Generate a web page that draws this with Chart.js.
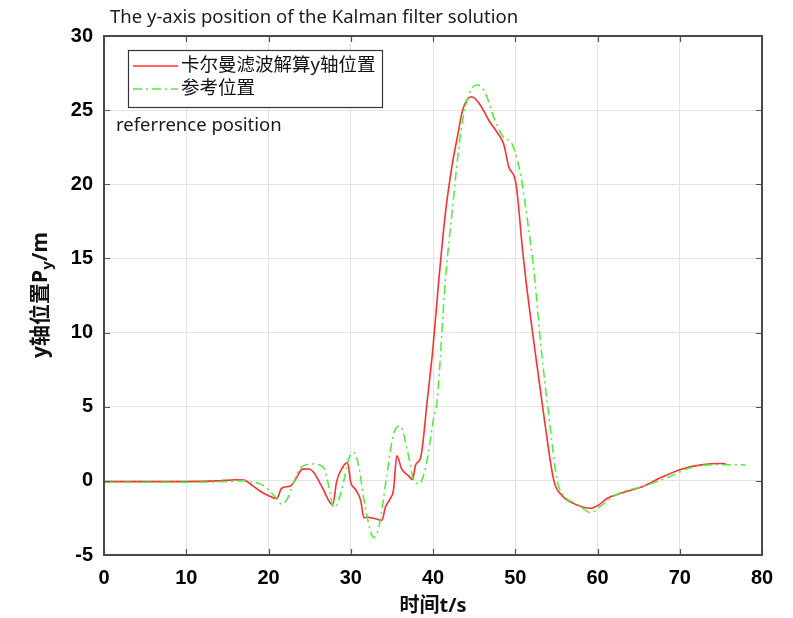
<!DOCTYPE html>
<html>
<head>
<meta charset="utf-8">
<script src="https://cdn.jsdelivr.net/npm/chart.js@4.4.1/dist/chart.umd.min.js"></script>
<style>
  html, body { margin: 0; padding: 0; background: #fff; }
  #wrap { width: 793px; height: 618px; }
</style>
</head>
<body>
<div id="wrap"><canvas id="myChart" width="793" height="618"></canvas></div>
<script>
// Kalman filter estimate of y position
const kalmanTime = [0, 5, 10, 14, 16, 17, 18, 19, 20, 21, 21.6, 22.7, 23.5, 24.1, 24.9, 25.5, 26.5, 27.8, 28.3, 29.0,
  29.6, 30.0, 30.6, 31.2, 31.6, 32.0, 33.0, 33.8, 34.2, 34.8, 35.2, 35.6, 36.2, 37.0, 37.5, 37.9, 38.5, 39.3, 40.0, 40.7,
  41.5, 42.3, 43.0, 43.6, 44.7, 45.8, 46.8, 47.8, 48.6, 49.2, 50.1, 50.9, 51.3, 52.3, 53.5, 54.7, 55.7, 57.0, 58.4, 59.2,
  60.2, 61.2, 62.5, 63.7, 65.7, 67.7, 70.2, 72.6, 75.2, 75.6];
const kalmanY = [-0.05, -0.05, -0.05, 0.0, 0.07, 0.05, -0.3, -0.7, -1.0, -1.2, -0.5, -0.34, 0.3, 0.79, 0.8, 0.56, -0.4, -1.62, 0.0, 0.9,
  1.24, -0.1, -0.6, -1.3, -2.48, -2.45, -2.55, -2.66, -1.8, -1.2, -0.6, 1.69, 0.79, 0.35, 0.1, 1.1, 1.57, 5.4, 9.0, 13.5,
  18.0, 21.2, 23.3, 25.0, 25.9, 25.3, 24.3, 23.5, 22.7, 21.2, 20.0, 15.5, 13.5, 9.2, 4.3, 0.0, -1.0, -1.5, -1.8, -1.85,
  -1.6, -1.17, -0.9, -0.68, -0.34, 0.22, 0.79, 1.08, 1.17, 1.15];

// reference trajectory
const refTime = [0, 5, 10, 15, 17, 18, 19, 20, 21, 21.6, 22.3, 23.0, 23.9, 25.5, 26.7, 27.3, 27.9, 28.5, 29.2, 29.8,
  30.4, 31.0, 31.5, 32.0, 32.8, 33.4, 33.9, 34.4, 35.2, 36.0, 36.9, 37.7, 38.3, 39.1, 40.1, 40.5, 41.5, 42.3, 43.4, 44.4,
  45.4, 46.4, 47.4, 48.4, 49.7, 50.7, 51.5, 52.3, 53.1, 54.1, 55.1, 55.9, 57.6, 59.2, 60.4, 62.4, 65.7, 68.5, 71.4, 73.8,
  77.3, 78];
const refY = [-0.1, -0.1, -0.1, -0.05, 0.0, -0.1, -0.2, -0.6, -1.2, -1.58, -1.2, -0.2, 0.9, 1.13, 0.9, -0.3, -1.8, -1.35, 0.1, 1.57,
  1.91, 0.9, -0.9, -2.45, -3.83, -3.15, -1.5, 0.45, 3.15, 3.7, 2.0, 0.0, -0.2, 0.9, 4.3, 5.4, 13.5, 18.0, 23.6, 26.1,
  26.7, 26.1, 24.5, 23.3, 22.6, 20.5, 17.5, 14.0, 9.2, 4.3, 0.0, -1.0, -1.58, -2.14, -1.69, -0.9, -0.34, 0.22, 0.9, 1.08,
  1.08, 1.05];

const seriesNames = ["卡尔曼滤波解算y轴位置", "参考位置"];
const xTicks = [0, 10, 20, 30, 40, 50, 60, 70, 80];
const yTicks = [-5, 0, 5, 10, 15, 20, 25, 30];

const chartTitle = "The y-axis position of the Kalman filter solution";
const noteText = "referrence position";

const tickFont = "'Liberation Sans Narrow', 'Liberation Sans', Arial, sans-serif";
const textFont = "'Noto Sans', 'Noto Sans CJK SC', sans-serif";

function toPoints(xs, ys) {
  return xs.map((x, i) => ({ x: x, y: ys[i] }));
}

// box around the axes with inward tick marks, title, note and legend
const decorPlugin = {
  id: "decor",
  afterDraw(chart) {
    const ctx = chart.ctx;
    const area = chart.chartArea;
    const xs = chart.scales.x;
    const ys = chart.scales.y;
    ctx.save();

    // inward ticks
    ctx.strokeStyle = "#555";
    ctx.lineWidth = 1.2;
    const len = 6;
    ctx.beginPath();
    for (const v of xTicks) {
      const px = Math.round(xs.getPixelForValue(v)) + 0.5;
      ctx.moveTo(px, area.bottom);
      ctx.lineTo(px, area.bottom - len);
      ctx.moveTo(px, area.top);
      ctx.lineTo(px, area.top + len);
    }
    for (const v of yTicks) {
      const py = Math.round(ys.getPixelForValue(v)) + 0.5;
      ctx.moveTo(area.left, py);
      ctx.lineTo(area.left + len, py);
      ctx.moveTo(area.right, py);
      ctx.lineTo(area.right - len, py);
    }
    ctx.stroke();

    // axes box
    ctx.strokeStyle = "#4a4a4a";
    ctx.lineWidth = 2;
    ctx.strokeRect(area.left, area.top, area.right - area.left, area.bottom - area.top);

    // title
    ctx.fillStyle = "#1a1a1a";
    ctx.font = "18.5px " + textFont;
    ctx.textBaseline = "middle";
    ctx.textAlign = "left";
    ctx.fillText(chartTitle, 110, 18);

    // y axis title with subscript
    ctx.save();
    ctx.translate(41, 295);
    ctx.rotate(-Math.PI / 2);
    ctx.fillStyle = "#111";
    const big = "bold 21px " + textFont;
    const small = "bold 15px " + textFont;
    const main = "y轴位置P";
    const sub = "y";
    const tail = "/m";
    ctx.font = big;
    const wMain = ctx.measureText(main).width;
    const wTail = ctx.measureText(tail).width;
    ctx.font = small;
    const wSub = ctx.measureText(sub).width;
    const x0 = -(wMain + wSub + wTail) / 2;
    ctx.textAlign = "left";
    ctx.font = big;
    ctx.fillText(main, x0, 0);
    ctx.font = small;
    ctx.fillText(sub, x0 + wMain, 7);
    ctx.font = big;
    ctx.fillText(tail, x0 + wMain + wSub, 0);
    ctx.restore();

    // legend
    const lx = 128, ly = 50, lw = 254, lh = 57;
    ctx.fillStyle = "#fff";
    ctx.fillRect(lx, ly, lw, lh);
    ctx.strokeStyle = "#333";
    ctx.lineWidth = 1.2;
    ctx.strokeRect(lx + 0.5, ly + 0.5, lw, lh);
    chart.data.datasets.forEach((ds, i) => {
      const yy = ly + 16 + i * 23;
      ctx.strokeStyle = ds.borderColor;
      ctx.lineWidth = ds.borderWidth;
      ctx.setLineDash(ds.borderDash || []);
      ctx.beginPath();
      ctx.moveTo(lx + 5, yy);
      ctx.lineTo(lx + 50, yy);
      ctx.stroke();
      ctx.setLineDash([]);
      ctx.fillStyle = "#111";
      ctx.font = "18.5px " + textFont;
      ctx.textBaseline = "middle";
      ctx.fillText(ds.label, lx + 53, yy);
    });

    // note
    ctx.fillStyle = "#1a1a1a";
    ctx.font = "18.5px " + textFont;
    ctx.fillText(noteText, 116, 126);

    ctx.restore();
  },
};

const ctx = document.getElementById("myChart").getContext("2d");

const myChart = new Chart(ctx, {
  type: "line",
  data: {
    datasets: [
      {
        label: seriesNames[0],
        data: toPoints(kalmanTime, kalmanY),
        borderColor: "#ff3030",
        borderWidth: 1.6,
        pointRadius: 0,
        fill: false,
        cubicInterpolationMode: "monotone",
        order: 2,
      },
      {
        label: seriesNames[1],
        data: toPoints(refTime, refY),
        borderColor: "#4ded3a",
        borderWidth: 1.5,
        borderDash: [9, 4, 2, 4],
        pointRadius: 0,
        fill: false,
        cubicInterpolationMode: "monotone",
        order: 1,
      },
    ],
  },
  options: {
    responsive: false,
    animation: false,
    devicePixelRatio: 1,
    layout: { padding: { left: 0, right: 31, top: 36, bottom: 0 } },
    plugins: {
      legend: { display: false },
      tooltip: { enabled: false },
    },
    scales: {
      x: {
        type: "linear",
        min: 0,
        max: 80,
        afterBuildTicks: (scale) => {
          scale.ticks = xTicks.map((v) => ({ value: v }));
        },
        afterFit: (scale) => {
          scale.height = 63;
        },
        ticks: {
          color: "#000",
          font: { family: tickFont, size: 20, weight: "bold" },
          padding: 11,
          maxRotation: 0,
        },
        grid: { color: "#e3e3e3", lineWidth: 1, drawTicks: false },
        border: { display: false },
        title: {
          display: true,
          text: "时间t/s",
          color: "#111",
          font: { family: textFont, size: 20, weight: "bold" },
          padding: { top: 2, bottom: 0 },
        },
      },
      y: {
        type: "linear",
        min: -5,
        max: 30,
        afterBuildTicks: (scale) => {
          scale.ticks = yTicks.map((v) => ({ value: v }));
        },
        afterFit: (scale) => {
          scale.width = 104;
        },
        ticks: {
          color: "#000",
          font: { family: tickFont, size: 20, weight: "bold" },
          padding: 11,
        },
        grid: { color: "#e3e3e3", lineWidth: 1, drawTicks: false },
        border: { display: false },
      },
    },
  },
  plugins: [decorPlugin],
});
</script>
</body>
</html>
